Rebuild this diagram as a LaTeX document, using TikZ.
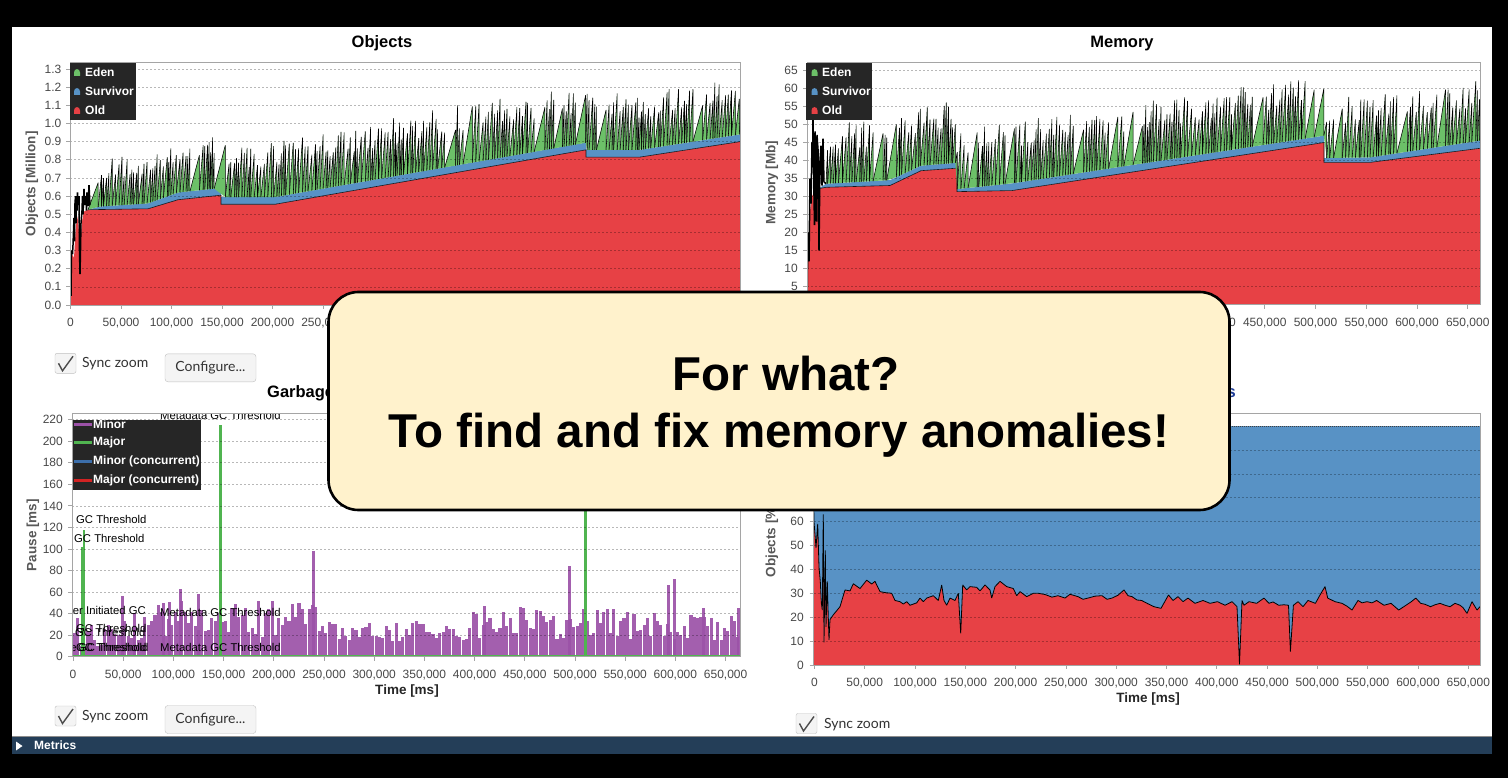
\documentclass[tikz,border=0pt]{standalone}
\usepackage{fontspec}
\setmainfont{Liberation Sans}
\newfontfamily\uifont{Lato}

\definecolor{oldred}{RGB}{231,65,69}
\definecolor{survblue}{RGB}{88,146,197}
\definecolor{edengreen}{RGB}{108,192,104}
\definecolor{gcpurple}{RGB}{156,82,168}
\definecolor{majorgreen}{RGB}{80,180,80}
\definecolor{concblue}{RGB}{60,110,170}
\definecolor{concred}{RGB}{210,35,35}
\definecolor{legendbg}{RGB}{38,38,38}
\definecolor{navybar}{RGB}{36,62,88}
\definecolor{calloutfill}{RGB}{255,242,204}
\definecolor{ticktext}{RGB}{72,72,72}
\definecolor{axistext}{RGB}{88,88,88}
\definecolor{framegray}{RGB}{165,165,165}
\definecolor{btnborder}{RGB}{192,192,192}
\definecolor{btnfill}{RGB}{244,244,244}
\definecolor{titleblue}{RGB}{30,60,150}

\newcommand\tkfont{\fontsize{12}{13}\selectfont}
\newcommand\ttlfont{\fontsize{16.5}{18}\selectfont\bfseries}
\newcommand\axlfont{\fontsize{13.5}{15}\selectfont\bfseries}
\newcommand\lgdfont{\fontsize{12}{13}\selectfont\bfseries}
\newcommand\evfont{\fontsize{11.3}{12}\selectfont}
\newcommand\uitxt{\uifont\fontsize{14}{15}\selectfont}
\newcommand\callfont{\fontsize{47.5}{57}\selectfont\bfseries}

\tikzset{
  ylab/.style={font=\tkfont, text=ticktext, inner sep=0pt, anchor=east},
  xlab/.style={font=\tkfont, text=ticktext, inner sep=0pt, anchor=base},
  charttitle/.style={font=\ttlfont, inner sep=0pt, anchor=base},
  axlabel/.style={font=\axlfont, text=axistext, inner sep=0pt, rotate=90},
  timelabel/.style={font=\axlfont, text=black!85, inner sep=0pt, anchor=base},
  gridln/.style={black, opacity=0.28, dash pattern=on 2pt off 2pt, line width=0.6pt},
  plotframe/.style={draw=framegray, line width=0.9pt},
  tickmark/.style={framegray, line width=0.8pt},
  legendbox/.style={fill=legendbg, inner sep=0pt, anchor=north west},
  lgdtext/.style={font=\lgdfont, text=white, anchor=west, inner sep=0pt},
  tooth/.style={black, line width=0.55pt, line join=bevel},
  edge/.style={black, line width=0.6pt, opacity=0.85},
  spikes/.style={black, line width=1.5pt, line join=bevel},
  gcbar/.style={fill=gcpurple, fill opacity=0.92},
  majorbar/.style={majorgreen, line width=3pt},
  evlabel/.style={font=\evfont, text=black, inner sep=0pt},
  checkbox/.style={draw=btnborder, fill=btnfill, rounded corners=2pt, minimum width=21pt, minimum height=20pt, inner sep=0pt},
  checkmark/.style={black!70, line width=1.4pt},
  uilabel/.style={font=\uitxt, text=black!80, anchor=west, inner sep=0pt},
  button/.style={draw=btnborder, fill=btnfill, rounded corners=3pt, minimum width=91pt, minimum height=28pt, inner sep=0pt, font=\uitxt, text=black!80},
  callout/.style={draw=black, line width=2.6pt, fill=calloutfill, rounded corners=30pt, minimum width=901pt, minimum height=218pt, inner sep=0pt},
  callouttext/.style={font=\callfont, text=black, inner sep=0pt, anchor=base},
}

% small rounded legend marker
\newcommand\lgmark[3]{\fill[#3] ({#1-3},{#2+3.5}) -- ({#1-3},{#2}) .. controls ({#1-3},{#2-4.5}) and ({#1+3},{#2-4.5}) .. ({#1+3},{#2}) -- ({#1+3},{#2+3.5}) -- cycle;}

% eden saw-teeth on top of the survivor band
\newcommand\drawteeth[6]{%
  \xdef\tcx{#1}%
  \foreach \i in {1,...,#2}{%
    \pgfmathsetmacro\tnx{\tcx+#5+#6*rnd+7*(rnd>0.94)}%
    \pgfmathsetmacro\tbA{#3(\tcx)}%
    \pgfmathsetmacro\tbB{#3(\tnx)}%
    \pgfmathsetmacro\tpk{\tbB+#4(\tnx)*(0.55+0.45*rnd)}%
    \fill[edengreen] (\tcx,\tbA) -- (\tnx,\tpk) -- (\tnx,\tbB) -- cycle;%
    \draw[tooth] (\tcx,\tbA) -- (\tnx,\tpk) -- (\tnx,\tbB);%
    \xdef\tcx{\tnx}%
  }}

% time axis labels
\def\timeticks{0/0,1/{50,000},2/{100,000},3/{150,000},4/{200,000},5/{250,000},6/{300,000},7/{350,000},8/{400,000},9/{450,000},10/{500,000},11/{550,000},12/{600,000},13/{650,000}}

% old-generation share profile (x in px, value in %)
\def\pctline{-- (813.5,72) -- (814,60) -- (816,49) -- (817.7,59) -- (819,41) -- (820.3,35) -- (821.3,26) -- (822.3,23) -- (823.3,63) -- (824,9.5) -- (825.3,48) -- (826,16) -- (827.3,35) -- (828,24) -- (829,10.5) -- (830,19) -- (833.3,21) -- (840,24.4) -- (845,31.4) -- (850,31) -- (853.3,34) -- (860,32) -- (866.7,35.5) -- (871.7,33.9) -- (875,35) -- (880,30.7) -- (885,30.3) -- (891.7,30) -- (895,27) -- (900,26.5) -- (903.3,25.5) -- (906.7,26.5) -- (910,25) -- (916.7,26) -- (920,28) -- (923.3,26.5) -- (926.7,28) -- (933.3,29) -- (938.3,27) -- (941.7,33.5) -- (944,27) -- (946.7,25) -- (950,28) -- (955,27) -- (958.3,30) -- (960.7,13.2) -- (962.7,33.5) -- (966.7,31.4) -- (970,32.8) -- (976.7,32.5) -- (980,31) -- (985,33.5) -- (990,31.4) -- (991.7,28) -- (995,32.8) -- (1000,35) -- (1006.7,32.8) -- (1013.3,32) -- (1016.7,29) -- (1020,30.7) -- (1026.7,28.6) -- (1033.3,30) -- (1038.3,30) -- (1045,29.5) -- (1052,28.4) -- (1058,29) -- (1065,28) -- (1070,29.6) -- (1078,28.6) -- (1083,27.5) -- (1088,28) -- (1095,28.8) -- (1102,29) -- (1107,27.5) -- (1112,28) -- (1118,29.2) -- (1124,31.4) -- (1128,29) -- (1132,28.6) -- (1137,27.2) -- (1141.6,27) -- (1148,25.6) -- (1154,24.4) -- (1161,23.7) -- (1168.5,29.3) -- (1173,27) -- (1178,28.6) -- (1183,26.5) -- (1188,28) -- (1195,25.8) -- (1203,27) -- (1210,25.8) -- (1217.5,26.5) -- (1225,25) -- (1232,26.5) -- (1237,24.4) -- (1239.5,0.3) -- (1242,27) -- (1244,25) -- (1249,26.5) -- (1256.6,25.8) -- (1264,28) -- (1269,25.8) -- (1273,26.4) -- (1278.7,25) -- (1284,25.2) -- (1288.5,25) -- (1290.4,5.6) -- (1293.4,25) -- (1298,26.5) -- (1303,24.4) -- (1308,27) -- (1315.4,25.8) -- (1320,29.3) -- (1325,32.8) -- (1327.7,28) -- (1335,26.5) -- (1342,25.8) -- (1347,24.6) -- (1352,23) -- (1358,27) -- (1362,26) -- (1367,26.5) -- (1372,26) -- (1376.6,27) -- (1384,25) -- (1391,25.8) -- (1398.7,23) -- (1406,25) -- (1411,26.4) -- (1415.8,28) -- (1420.7,25.8) -- (1425,25.4) -- (1430.5,24.4) -- (1435,25.2) -- (1440,25.8) -- (1445,25) -- (1450,24.4) -- (1455,25.8) -- (1460,25) -- (1463,24) -- (1467,21.6) -- (1472,26.5) -- (1477,23) -- (1480,24.4)}

\begin{document}
\begin{tikzpicture}[x=1pt,y=-1pt,
  declare function={
    obase(\x)=(\x<100)?(0.525+(\x-88)*0.0015):((\x<148)?(0.543+(\x-100)*0.000354):((\x<178)?(0.56+(\x-148)*0.002):((\x<221)?(0.62+(\x-178)*0.000581):((\x<275)?0.595:((\x<586)?(0.595+(\x-275)*0.000965):((\x<640)?0.855:(0.855+(\x-640)*0.00085)))))));
    oamp(\x)=(\x<110)?(0.12+(\x-88)*0.0068):((\x<450)?(0.27+(\x-110)*0.000176):(0.33-(\x-450)*0.00007));
    mbase(\x)=(\x<890)?(33.5+(\x-826)*0.015625):((\x<921)?(34.5+(\x-890)*0.129):((\x<957)?(38.5+(\x-921)*0.0222):((\x<1012)?(32+(\x-957)*0.0291):((\x<1324)?(33.6+(\x-1012)*0.0423):((\x<1370)?(40.6+(\x-1324)*0.00435):(40.8+(\x-1370)*0.0422))))));
    mamp(\x)=(\x<850)?(9+(\x-826)*0.33):17;
    gclo(\x)=(\x<150)?8:((\x<330)?18:((\x<470)?14:15));
    gchi(\x)=(\x<150)?38:((\x<330)?52:((\x<470)?33:46));
  }]
\useasboundingbox (0,0) rectangle (1508,778);
\fill[black] (0,0) rectangle (1508,778);
\fill[white] (12,27) rectangle (1492,736);
\fill[navybar] (12,736) rectangle (1492,753.5);
\draw[black!45, line width=0.8pt] (12,736) -- (1492,736);
\fill[white] (16,741.5) -- (16,750.5) -- (22.5,746) -- cycle;
\node[font=\lgdfont, text=white, anchor=west, inner sep=0pt] (metrics) at (34,745.5) {Metrics};

%================ Objects ================
\node[charttitle] (objTitle) at (382,48) {Objects};
\begin{scope}[shift={(0,305)}, y=181.5pt]
  \begin{scope}
    \clip (70,0) rectangle (740,1.335);
    \fill[oldred] (70,0) -- (70.5,0.1) -- (72,0.28) -- (74,0.26) -- (76,0.44) -- (78,0.49) -- (80,0.3) -- (82,0.46) -- (84,0.515) -- (88,0.525) -- (148,0.53) -- (178,0.58) -- (221,0.605) -- (221,0.555) -- (275,0.555) -- (586,0.855) -- (586,0.815) -- (640,0.815) -- (740,0.9) -- (740,0) -- cycle;
    \fill[survblue] (88,0.525) -- (100,0.543) -- (148,0.56) -- (178,0.62) -- (221,0.645) -- (221,0.595) -- (275,0.595) -- (586,0.895) -- (586,0.855) -- (640,0.855) -- (740,0.94) -- (740,0.9) -- (640,0.815) -- (586,0.815) -- (586,0.855) -- (275,0.555) -- (221,0.555) -- (221,0.605) -- (178,0.58) -- (148,0.53) -- cycle;
    \draw[edge] (88,0.525) -- (148,0.53) -- (178,0.58) -- (221,0.605) -- (221,0.555) -- (275,0.555) -- (586,0.855) -- (586,0.815) -- (640,0.815) -- (740,0.9);
    \pgfmathsetseed{11}
    \drawteeth{88}{230}{obase}{oamp}{1.5}{2.6}
    \draw[spikes] (70,0) -- (70.5,0.22) -- (71,0.05) -- (71.5,0.3) -- (72.5,0.28) -- (73,0.33) -- (74,0.48) -- (74.5,0.35) -- (75,0.56) -- (75.5,0.6) -- (76,0.45) -- (76.5,0.6) -- (77,0.52) -- (77.5,0.62) -- (78,0.55) -- (79,0.6) -- (79.5,0.3) -- (80,0.17) -- (80.5,0.3) -- (81,0.45) -- (82,0.52) -- (82.5,0.6) -- (83,0.5) -- (84,0.64) -- (84.5,0.55) -- (85,0.58) -- (86,0.6) -- (86.5,0.52) -- (87,0.62) -- (88,0.545) -- (89,0.66) -- (90,0.55);
  \end{scope}
\end{scope}
\foreach \v in {0.1,0.2,0.3,0.4,0.5,0.6,0.7,0.8,0.9,1.0,1.1,1.2,1.3}
  \draw[gridln] (70,{305-\v*181.5}) -- (740,{305-\v*181.5});
\draw[plotframe] (70,62.7) rectangle (740,305);
\foreach \v [count=\k] in {0.0,0.1,0.2,0.3,0.4,0.5,0.6,0.7,0.8,0.9,1.0,1.1,1.2,1.3}{
  \node[ylab] (oyl\k) at (61.5,{305-\v*181.5}) {\v};
  \draw[tickmark] (66,{305-\v*181.5}) -- (70,{305-\v*181.5});
}
\foreach \nn/\lbl [count=\k] in \timeticks{
  \node[xlab] (oxl\k) at ({70.5+\nn*50.5},326) {\lbl};
  \draw[tickmark] ({70.5+\nn*50.5},305) -- ({70.5+\nn*50.5},309);
}
\node[axlabel] (objAxis) at (32,184) {Objects [Million]};
\node[legendbox, minimum width=66.5pt, minimum height=57.3pt] (objLegend) at (69.5,62.7) {};
\lgmark{77}{72.5}{edengreen}
\lgmark{77}{91.5}{survblue}
\lgmark{77}{110.5}{oldred}
\node[lgdtext] (objL1) at (85,72) {Eden};
\node[lgdtext] (objL2) at (85,91) {Survivor};
\node[lgdtext] (objL3) at (85,110) {Old};

%================ Memory ================
\node[charttitle] (memTitle) at (1122,48) {Memory};
\begin{scope}[shift={(0,304.7)}, y=3.612pt]
  \begin{scope}
    \clip (807,0) rectangle (1480,67);
    \fill[oldred] (807,0) -- (808,12) -- (810,26) -- (812,30) -- (815,31.5) -- (820,32.2) -- (826,32.5) -- (890,33) -- (921,37.1) -- (957,37.8) -- (957,31.3) -- (1012,31.6) -- (1324,44.9) -- (1324,39.4) -- (1370,39.4) -- (1480,43.3) -- (1480,0) -- cycle;
    \fill[survblue] (815,31.5) -- (826,33.5) -- (890,34.5) -- (921,38.5) -- (957,39.3) -- (957,32) -- (1012,33.6) -- (1324,46.8) -- (1324,40.6) -- (1370,40.8) -- (1480,45.45) -- (1480,43.3) -- (1370,39.4) -- (1324,39.4) -- (1324,44.9) -- (1012,31.6) -- (957,31.3) -- (957,37.8) -- (921,37.1) -- (890,33) -- (826,32.5) -- (820,32.2) -- cycle;
    \draw[edge] (820,32.2) -- (826,32.5) -- (890,33) -- (921,37.1) -- (957,37.8) -- (957,31.3) -- (1012,31.6) -- (1324,44.9) -- (1324,39.4) -- (1370,39.4) -- (1480,43.3);
    \pgfmathsetseed{23}
    \drawteeth{826}{230}{mbase}{mamp}{1.5}{2.6}
    \draw[spikes] (807,0) -- (808,20) -- (809,12) -- (810,35) -- (811,28) -- (812,45) -- (812.5,38) -- (813,53) -- (814,30) -- (814.5,22) -- (815,48) -- (816,35) -- (816.5,23) -- (817,47) -- (818,43) -- (819,15) -- (820,40) -- (821,44) -- (822,33) -- (823,46) -- (824,34) -- (826,33.5);
  \end{scope}
\end{scope}
\foreach \v in {5,10,...,65}
  \draw[gridln] (807,{304.7-\v*3.612}) -- (1480,{304.7-\v*3.612});
\draw[plotframe] (807,62.7) rectangle (1480,304.7);
\foreach \v [count=\k] in {0,5,...,65}{
  \node[ylab] (myl\k) at (798,{304.7-\v*3.612}) {\v};
  \draw[tickmark] (803,{304.7-\v*3.612}) -- (807,{304.7-\v*3.612});
}
\foreach \nn/\lbl [count=\k] in \timeticks{
  \node[xlab] (mxl\k) at ({808+\nn*50.75},326) {\lbl};
  \draw[tickmark] ({808+\nn*50.75},304.7) -- ({808+\nn*50.75},308.7);
}
\node[axlabel] (memAxis) at (772,182.5) {Memory [Mb]};
\node[legendbox, minimum width=66pt, minimum height=56.8pt] (memLegend) at (806,62.7) {};
\lgmark{814.5}{72.5}{edengreen}
\lgmark{814.5}{91.5}{survblue}
\lgmark{814.5}{110.5}{oldred}
\node[lgdtext] (memL1) at (822,72) {Eden};
\node[lgdtext] (memL2) at (822,91) {Survivor};
\node[lgdtext] (memL3) at (822,110) {Old};

%================ Garbage collection pauses ================
\node[charttitle, anchor=base west] (gcTitle) at (267,397) {Garbage Collection};
\begin{scope}[shift={(0,656.7)}, y=1.0773pt]
  \begin{scope}
    \clip (72,0) rectangle (740,226.2);
    \pgfmathsetseed{5}
    \foreach \i in {0,...,198}{
      \pgfmathsetmacro\bx{73+\i*3.35}
      \pgfmathsetmacro\bh{gclo(\bx)+(gchi(\bx)-gclo(\bx))*rnd}
      \fill[gcbar] (\bx,0) rectangle ({\bx+3.1},\bh);
    }
    \foreach \bx/\bh in {121/56,133/41,162/50,168/51,179/63,197/58,312/98,483/47,568/84,667/67,673/72,702/45,737/45}
      \fill[gcbar] (\bx,0) rectangle ({\bx+3.1},\bh);
    \draw[majorgreen, line width=1.6pt] (72,0.8) -- (740,0.8);
    \draw[majorgreen, line width=2pt] (81.7,0) -- (81.7,102);
    \draw[majorgreen, line width=2.2pt] (84,0) -- (84,118);
    \draw[majorbar] (220.5,0) -- (220.5,215);
    \draw[majorbar] (585.5,0) -- (585.5,190);
  \end{scope}
\end{scope}
\foreach \v in {20,40,...,220}
  \draw[gridln] (72,{656.7-\v*1.0773}) -- (740,{656.7-\v*1.0773});
\node[legendbox, minimum width=129pt, minimum height=70.5pt] (gcLegend) at (72,419.5) {};
\foreach \yy/\cc/\lbl [count=\k] in {424/gcpurple/Minor,442/majorgreen/Major,461/concblue/Minor (concurrent),480/concred/Major (concurrent)}{
  \draw[\cc, line width=3pt] (74,\yy) -- (92,\yy);
  \node[lgdtext] (gcL\k) at (93,\yy) {\lbl};
}
\begin{scope}
  \clip (72,413) rectangle (740,656.7);
  \node[evlabel, anchor=base west] (ev1) at (160,419) {Metadata GC Threshold};
  \node[evlabel, anchor=base west] (ev2) at (76,523.5) {GC Threshold};
  \node[evlabel, anchor=base west] (ev3) at (74,542.5) {GC Threshold};
  \node[evlabel, anchor=base east] (ev4) at (146,614) {User Initiated GC};
  \node[evlabel, anchor=base west] (ev5) at (160,616) {Metadata GC Threshold};
  \node[evlabel, anchor=base west] (ev6) at (76,632) {GC Threshold};
  \node[evlabel, anchor=base west] (ev7) at (75,636) {GC Threshold};
  \node[evlabel, anchor=base east] (ev8) at (77,651.5) {Allocation Failure};
  \node[evlabel, anchor=base west] (ev9) at (76,651.5) {GC Threshold};
  \node[evlabel, anchor=base west] (ev10) at (78,651.5) {GC Threshold};
  \node[evlabel, anchor=base west] (ev11) at (160,651.5) {Metadata GC Threshold};
\end{scope}
\draw[plotframe] (72,413) rectangle (740,656.7);
\foreach \v [count=\k] in {0,20,...,220}{
  \node[ylab] (gyl\k) at (63,{656.7-\v*1.0773}) {\v};
  \draw[tickmark] (68,{656.7-\v*1.0773}) -- (72,{656.7-\v*1.0773});
}
\foreach \nn/\lbl [count=\k] in \timeticks{
  \node[xlab] (gxl\k) at ({73+\nn*50.2},678.5) {\lbl};
  \draw[tickmark] ({73+\nn*50.2},656.7) -- ({73+\nn*50.2},660.7);
}
\node[axlabel] (gcAxis) at (33,535) {Pause [ms]};
\node[timelabel] (gcTime) at (407,694) {Time [ms]};

%================ Object share ================
\node[charttitle, anchor=base east, text=titleblue] (pctTitle) at (1236,397) {s};
\begin{scope}[shift={(0,665)}, y=2.39pt]
  \begin{scope}
    \clip (813.5,0) rectangle (1480,105.4);
    \fill[oldred] (813.5,0) \pctline -- (1480,0) -- cycle;
    \fill[survblue] (813.5,100) \pctline -- (1480,100) -- cycle;
    \draw[black, line width=0.8pt, line join=bevel] (813.5,72) \pctline;
    \draw[black!75, line width=0.8pt, dash pattern=on 1pt off 1pt] (813.5,100) -- (1480,100);
  \end{scope}
\end{scope}
\foreach \v in {10,20,...,90}
  \draw[gridln] (813.5,{665-\v*2.39}) -- (1480,{665-\v*2.39});
\draw[plotframe] (813.5,413) rectangle (1480,665);
\foreach \v [count=\k] in {0,10,...,100}{
  \node[ylab] (pyl\k) at (804,{665-\v*2.39}) {\v};
  \draw[tickmark] (809.5,{665-\v*2.39}) -- (813.5,{665-\v*2.39});
}
\foreach \nn/\lbl [count=\k] in \timeticks{
  \node[xlab] (pxl\k) at ({814.4+\nn*50.3},686) {\lbl};
  \draw[tickmark] ({814.4+\nn*50.3},665) -- ({814.4+\nn*50.3},669);
}
\node[axlabel] (pctAxis) at (772,540) {Objects [\%]};
\node[timelabel] (pctTime) at (1148,702) {Time [ms]};

%================ controls ================
\node[checkbox] (cbA) at (65.5,363.3) {};
\draw[checkmark] (cbA.center) ++(-7,0) -- ++(4,7.5) -- ++(10.5,-14.5);
\node[uilabel] (syncA) at (82,364) {Sync zoom};
\node[button] (cfgA) at (210.5,367.8) {Configure...};

\node[checkbox] (cbB) at (65.5,716) {};
\draw[checkmark] (cbB.center) ++(-7,0) -- ++(4,7.5) -- ++(10.5,-14.5);
\node[uilabel] (syncB) at (82,716.5) {Sync zoom};
\node[button] (cfgB) at (210.5,719.5) {Configure...};

\node[checkbox] (cbC) at (806.5,723.5) {};
\draw[checkmark] (cbC.center) ++(-7,0) -- ++(4,7.5) -- ++(10.5,-14.5);
\node[uilabel] (syncC) at (824,725) {Sync zoom};

%================ call-out ================
\node[callout] (callout) at (779,401) {};
\node[callouttext] (question) at (786,390) {For what?};
\node[callouttext] (answer) at (779,447) {To find and fix memory anomalies!};
\end{tikzpicture}
\end{document}
